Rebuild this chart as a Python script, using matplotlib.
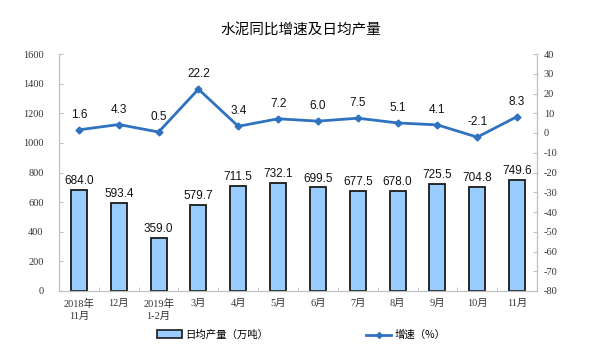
import numpy as np
import matplotlib
matplotlib.use('Agg')
from matplotlib import pyplot as plt
from matplotlib.patches import Patch
from matplotlib.lines import Line2D

plt.rcParams['font.family'] = ['Liberation Sans', 'Noto Sans CJK SC']
plt.rcParams['axes.unicode_minus'] = False

months  = ['2018年\n11月', '12月', '2019年\n1-2月', '3月', '4月', '5月',
           '6月', '7月', '8月', '9月', '10月', '11月']
output  = [684.0, 593.4, 359.0, 579.7, 711.5, 732.1, 699.5, 677.5, 678.0, 725.5, 704.8, 749.6]
growth  = [1.6, 4.3, 0.5, 22.2, 3.4, 7.2, 6.0, 7.5, 5.1, 4.1, -2.1, 8.3]

bar_c   = '#99CCFF'
line_c  = '#2F72C0'
spine_c = '#BFBFBF'
tickfam = ['Liberation Serif', 'Noto Sans CJK SC']

fig = plt.figure(figsize=(6.01, 3.59), dpi=100)
ax  = fig.add_axes([59/601, 1-291/359, (537-59)/601, (291-54)/359])
ax2 = ax.twinx()

x = np.arange(len(months))
ax.bar(x, output, width=0.4, color=bar_c, edgecolor='#1a1a1a', linewidth=1.3, zorder=2)
for xi, v in zip(x, output):
    ax.text(xi, v + 18, f'{v:.1f}', ha='center', va='bottom', fontsize=8.5, color='#111111')

ax2.plot(x, growth, color=line_c, lw=2, marker='D', ms=3.5, zorder=3)
for xi, v in zip(x, growth):
    ax2.text(xi, v + 4.5, f'{v:.1f}', ha='center', va='bottom', fontsize=8.5, color='#111111')

ax.set_xlim(-0.5, 11.5)
ax.set_ylim(0, 1600)
ax.set_yticks(range(0, 1601, 200))
ax2.set_ylim(-80, 40)
ax2.set_yticks(range(-80, 41, 10))

ax.set_xticks(x)
ax.set_xticklabels(months, family=tickfam, fontsize=7.5, color='#333333', linespacing=1.3)
ax.set_xticks(np.arange(-0.5, 12, 1), minor=True)
ax.tick_params(axis='x', which='major', length=0, pad=6)
ax.tick_params(axis='x', which='minor', length=3, direction='in', color=spine_c)
ax.tick_params(axis='y', direction='in', length=3, color=spine_c, labelsize=7.5, pad=11)
ax2.tick_params(axis='y', direction='in', length=3, color=spine_c, labelsize=7.5, pad=5)
for lab in ax.get_yticklabels() + ax2.get_yticklabels():
    lab.set_family(tickfam)
    lab.set_color('#333333')

for a in (ax, ax2):
    a.spines['top'].set_visible(False)
    for s in ('left', 'right', 'bottom'):
        a.spines[s].set_color(spine_c)

fig.text(0.5, 1-30/359, '水泥同比增速及日均产量', ha='center', va='center',
         fontsize=10.5, family=['Noto Sans CJK SC'])

h1 = Patch(facecolor=bar_c, edgecolor='#1a1a1a', linewidth=1.2)
h2 = Line2D([], [], color=line_c, lw=2, marker='D', ms=3)
fig.legend([h1], ['日均产量（万吨）'], loc='center left', bbox_to_anchor=(148/601, 1-335/359),
           frameon=False, handlelength=2.4, handleheight=0.8,
           prop={'family': ['Noto Sans CJK SC'], 'size': 7.5}, handletextpad=0.3)
fig.legend([h2], ['增速（%）'], loc='center left', bbox_to_anchor=(357/601, 1-335/359),
           frameon=False, handlelength=2.4,
           prop={'family': ['Noto Sans CJK SC'], 'size': 7.5}, handletextpad=0.3)

fig.savefig('out.png', dpi=100)
